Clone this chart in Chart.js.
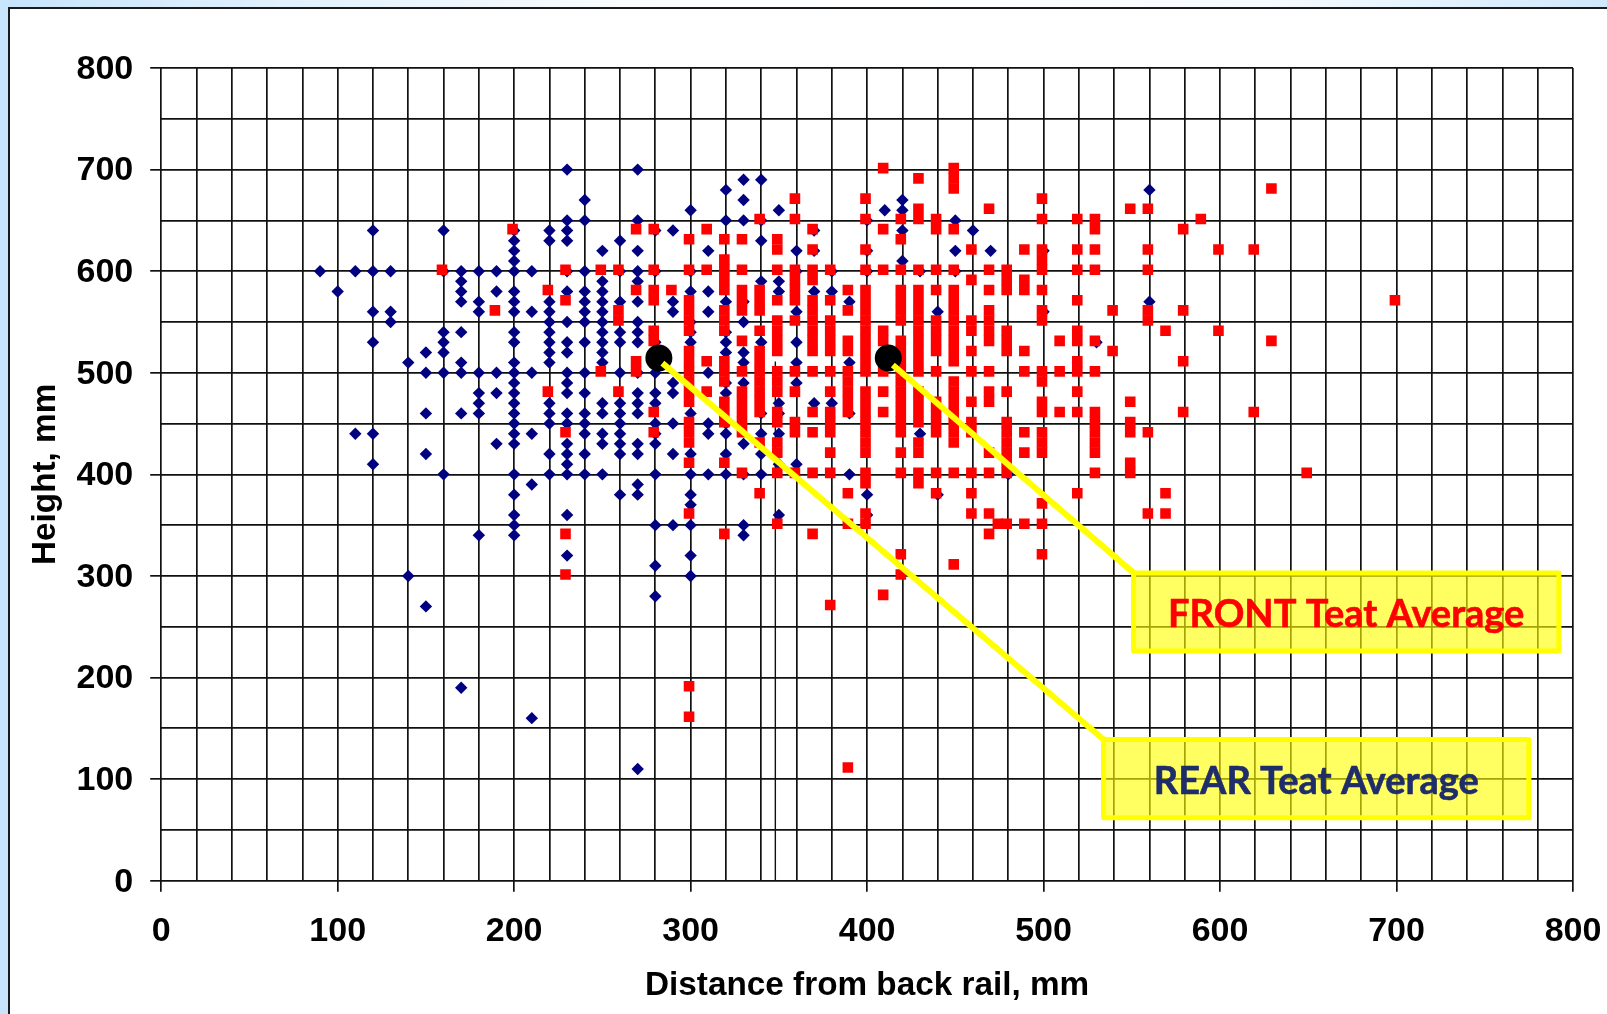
<!DOCTYPE html>
<html>
<head>
<meta charset="utf-8">
<title>Teat position</title>
<script src="https://cdn.jsdelivr.net/npm/chart.js@4"></script>
<style>
  html, body { margin: 0; width: 1607px; height: 1014px; overflow: hidden; }
  body { background: linear-gradient(90deg, #c6e4fb 0%, #e4f2fd 20%, #fafdff 40%, #ffffff 55%, #f4faff 80%, #cfe8fb 100%); }
  #panel { position: absolute; left: 8px; top: 7px; width: 1700px; height: 1100px; background: #fff; border: 2px solid #1a1a1a; }
  #grafica { position: absolute; left: 0; top: 0; }
</style>
</head>
<body>
<div id="panel"></div>
<canvas id="grafica" width="1607" height="1014"></canvas>
<script>
// [distance, [heights...]], one column per distance
const rearColumns = [
  [90, [600]],
  [100, [580]],
  [110, [600, 440]],
  [120, [640, 600, 560, 530, 440, 410]],
  [130, [600, 560, 550]],
  [140, [510, 300]],
  [150, [520, 500, 460, 420, 270]],
  [160, [640, 600, 540, 530, 520, 500, 400]],
  [170, [600, 590, 580, 570, 540, 510, 500, 460, 190]],
  [180, [600, 570, 560, 500, 480, 470, 460, 340]],
  [190, [600, 580, 500, 480, 430]],
  [200, [640, 630, 620, 610, 600, 580, 570, 560, 540, 530, 510, 500, 490, 480, 470, 460, 450, 440, 430, 400, 380, 360, 350, 340]],
  [210, [600, 560, 500, 440, 390, 160]],
  [220, [640, 630, 570, 560, 550, 540, 530, 520, 510, 470, 460, 450, 420, 400]],
  [230, [700, 650, 640, 630, 600, 580, 550, 530, 520, 500, 490, 480, 460, 450, 430, 420, 410, 400, 360, 320]],
  [240, [670, 650, 600, 580, 570, 560, 550, 530, 500, 480, 460, 450, 440, 420, 400]],
  [250, [620, 590, 580, 570, 560, 550, 540, 530, 520, 510, 470, 460, 440, 430, 400]],
  [260, [630, 600, 570, 540, 530, 500, 470, 460, 450, 440, 430, 420, 380]],
  [270, [700, 650, 620, 600, 590, 570, 550, 540, 530, 500, 480, 470, 460, 430, 420, 390, 380, 110]],
  [280, [640, 600, 530, 500, 480, 470, 450, 440, 430, 400, 350, 310, 280]],
  [290, [640, 570, 560, 490, 480, 450, 420, 350]],
  [300, [660, 600, 580, 550, 540, 530, 460, 420, 400, 380, 370, 350, 320, 300]],
  [310, [620, 580, 560, 500, 450, 440, 400]],
  [320, [680, 650, 570, 540, 530, 520, 490, 480, 450, 440, 420, 400]],
  [330, [690, 670, 650, 570, 550, 520, 510, 490, 430, 400, 350, 340]],
  [340, [690, 650, 630, 590, 530, 460, 440, 420, 400]],
  [350, [660, 590, 580, 470, 460, 440, 410, 360]],
  [360, [620, 600, 560, 530, 510, 490, 410]],
  [370, [640, 620, 580, 470]],
  [380, [600, 580, 470]],
  [390, [570, 510, 460, 400]],
  [400, [650, 620, 600, 380, 360]],
  [410, [660]],
  [420, [670, 660, 640, 610]],
  [430, [600, 440]],
  [440, [560, 380]],
  [450, [650, 620, 600]],
  [460, [640]],
  [470, [620]],
  [480, [400]],
  [500, [620, 560]],
  [530, [530]],
  [560, [680, 570]]
];

const frontColumns = [
  [160, [600]],
  [190, [560]],
  [200, [640]],
  [220, [580, 480]],
  [230, [600, 570, 440, 340, 300]],
  [250, [600, 500]],
  [260, [600, 560, 550, 480]],
  [270, [640, 580, 510, 500]],
  [280, [640, 600, 580, 570, 540, 530, 460, 440]],
  [290, [580]],
  [300, [630, 600, 570, 560, 550, 540, 520, 510, 500, 490, 480, 470, 450, 440, 430, 410, 360, 190, 160]],
  [310, [640, 600, 510, 480]],
  [320, [630, 610, 600, 590, 580, 560, 550, 540, 510, 500, 490, 470, 460, 450, 410, 340]],
  [330, [630, 600, 580, 570, 560, 530, 500, 480, 470, 460, 450, 440, 400]],
  [340, [650, 580, 570, 560, 540, 520, 510, 500, 490, 480, 470, 460, 430, 380]],
  [350, [630, 620, 600, 570, 550, 540, 530, 520, 500, 490, 480, 460, 450, 430, 420, 400, 350]],
  [360, [670, 650, 600, 590, 580, 570, 550, 500, 480, 450, 440, 400]],
  [370, [640, 620, 600, 590, 570, 560, 550, 540, 530, 520, 500, 460, 440, 400, 340]],
  [380, [600, 570, 550, 540, 530, 520, 500, 480, 460, 450, 440, 420, 400, 270]],
  [390, [580, 560, 530, 520, 500, 490, 480, 470, 460, 380, 350, 110]],
  [400, [670, 650, 620, 600, 580, 570, 560, 550, 540, 530, 520, 510, 500, 480, 470, 460, 450, 440, 430, 420, 400, 390, 360, 350]],
  [410, [700, 640, 600, 540, 530, 500, 480, 460, 280]],
  [420, [650, 630, 600, 580, 570, 560, 550, 530, 520, 510, 500, 490, 480, 470, 460, 450, 440, 420, 400, 320, 300]],
  [430, [690, 660, 650, 600, 580, 570, 560, 550, 540, 530, 520, 510, 500, 480, 470, 460, 450, 430, 420, 400, 390]],
  [440, [650, 640, 600, 580, 550, 540, 530, 520, 500, 470, 460, 450, 440, 400, 380]],
  [450, [700, 690, 680, 640, 600, 580, 570, 560, 550, 540, 530, 520, 510, 490, 480, 470, 460, 450, 440, 430, 400, 310]],
  [460, [620, 590, 550, 540, 520, 500, 470, 450, 440, 400, 380, 360]],
  [470, [660, 600, 580, 560, 550, 540, 530, 500, 480, 470, 420, 400, 360, 340]],
  [475, [350]],
  [480, [600, 590, 580, 540, 530, 520, 480, 450, 440, 430, 420, 410, 400, 350]],
  [490, [620, 590, 580, 520, 500, 440, 420, 350]],
  [500, [670, 650, 620, 610, 600, 580, 560, 550, 500, 490, 470, 460, 440, 430, 420, 370, 350, 320]],
  [510, [530, 500, 460]],
  [520, [650, 620, 600, 570, 540, 530, 510, 500, 480, 460, 380]],
  [530, [650, 640, 620, 600, 530, 500, 460, 450, 440, 430, 420, 400]],
  [540, [560, 520]],
  [550, [660, 470, 450, 440, 410, 400]],
  [560, [660, 620, 600, 560, 550, 440, 360]],
  [570, [540, 380, 360]],
  [580, [640, 560, 510, 460]],
  [590, [650]],
  [600, [620, 540]],
  [620, [620, 460]],
  [630, [680, 530]],
  [650, [400]],
  [700, [570]]
];

const averagePoints = [{ x: 282, y: 514.5 }, { x: 412, y: 514.5 }];
const rearCallout = [{ x: 284, y: 509.5 }, { x: 534, y: 139 }];
const frontCallout = [{ x: 414.6, y: 507.6 }, { x: 551, y: 303 }];
const strayLine = [{ x: 348, y: 0 }, { x: 348, y: 511 }];

// the red layer sits a little up and left of the grid in the original
const frontShiftX = -0.9;
const frontShiftY = 1.4;

function expand(columns, dx, dy) {
  return columns.flatMap(([x, ys]) => ys.map(y => ({ x: x + dx, y: y + dy })));
}

const labelBoxes = [
  { text: 'FRONT Teat Average', color: '#ff0000', x0: 551, x1: 792, y0: 303, y1: 226 },
  { text: 'REAR Teat Average', color: '#1f2d6b', x0: 534, x1: 775, y0: 139, y1: 62 }
];

const cajasPlugin = {
  id: 'cajas',
  afterDatasetsDraw(chart) {
    const { ctx, scales } = chart;
    labelBoxes.forEach(b => {
      const left = scales.x.getPixelForValue(b.x0);
      const right = scales.x.getPixelForValue(b.x1);
      const top = scales.y.getPixelForValue(b.y0);
      const bottom = scales.y.getPixelForValue(b.y1);
      ctx.save();
      ctx.fillStyle = 'rgba(255,255,0,0.62)';
      ctx.strokeStyle = '#ffff00';
      ctx.lineWidth = 5;
      ctx.lineJoin = 'round';
      ctx.fillRect(left, top, right - left, bottom - top);
      ctx.strokeRect(left, top, right - left, bottom - top);
      ctx.fillStyle = b.color;
      ctx.strokeStyle = b.color;
      ctx.lineWidth = 0.6;
      ctx.font = 'bold 38px Lato';
      ctx.textAlign = 'center';
      ctx.textBaseline = 'middle';
      ctx.fillText(b.text, (left + right) / 2, (top + bottom) / 2 + 3);
      ctx.strokeText(b.text, (left + right) / 2, (top + bottom) / 2 + 3);
      ctx.restore();
    });
  }
};

function esMayor(ctx) {
  return ctx.tick && ctx.tick.value % 100 === 0 ? '#111' : 'rgba(0,0,0,0)';
}

const fuenteTicks = { family: '"Liberation Sans"', size: 34, weight: 'bold' };
const fuenteTitulo = { family: '"Liberation Sans"', size: 33.3, weight: 'bold' };

new Chart(document.getElementById('grafica').getContext('2d'), {
  type: 'scatter',
  data: {
    datasets: [
      { label: 'Rear callout', data: rearCallout, showLine: true, borderColor: '#ffff00', borderWidth: 6, pointRadius: 0, order: 1 },
      { label: 'Front callout', data: frontCallout, showLine: true, borderColor: '#ffff00', borderWidth: 6, pointRadius: 0, order: 1 },
      { label: 'Averages', data: averagePoints, pointStyle: 'circle', pointRadius: 13.5, backgroundColor: '#000', borderWidth: 0, order: 2 },
      { label: 'Front', data: expand(frontColumns, frontShiftX, frontShiftY), pointStyle: 'rect', pointRadius: 7.5, backgroundColor: '#ff0000', borderWidth: 0, order: 3 },
      { label: 'Rear', data: expand(rearColumns, 0, 0), pointStyle: 'rectRot', pointRadius: 6.2, backgroundColor: '#000080', borderWidth: 0, order: 4 },
      { label: 'Stray line', data: strayLine, showLine: true, borderColor: '#111', borderWidth: 1.4, pointRadius: 0, order: 5 }
    ]
  },
  options: {
    responsive: false,
    animation: false,
    events: [],
    layout: { padding: { left: 0, right: 34, top: 68, bottom: 0 } },
    scales: {
      x: {
        type: 'linear',
        min: 0,
        max: 800,
        afterFit: scale => { scale.height = 133.3; scale.paddingRight = 0; },
        ticks: {
          stepSize: 20,
          autoSkip: false,
          maxRotation: 0,
          padding: 20,
          color: '#000',
          font: fuenteTicks,
          callback: v => (v % 100 === 0 ? v : '')
        },
        grid: { color: '#111', lineWidth: 1.7, tickLength: 11, tickColor: esMayor, drawTicks: true },
        border: { display: false },
        title: { display: true, text: 'Distance from back rail, mm', color: '#000', font: fuenteTitulo, padding: { top: 0, bottom: 8 } }
      },
      y: {
        type: 'linear',
        min: 0,
        max: 800,
        afterFit: scale => { scale.width = 161.2; },
        ticks: {
          stepSize: 50,
          autoSkip: false,
          padding: 17,
          labelOffset: 1.5,
          color: '#000',
          font: fuenteTicks,
          callback: v => (v % 100 === 0 ? v : '')
        },
        grid: { color: '#111', lineWidth: 1.7, tickLength: 11, tickColor: esMayor, drawTicks: true },
        border: { display: false },
        title: { display: true, text: 'Height, mm', color: '#000', font: fuenteTitulo, padding: { top: 26, bottom: 0 } }
      }
    },
    plugins: {
      legend: { display: false },
      tooltip: { enabled: false }
    }
  },
  plugins: [cajasPlugin]
});
</script>
</body>
</html>
